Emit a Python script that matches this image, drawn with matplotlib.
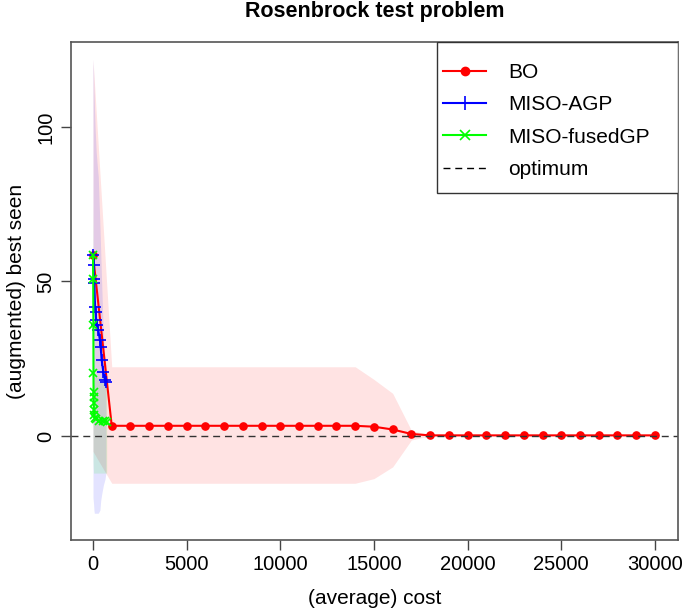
import matplotlib
matplotlib.use("Agg")
import matplotlib.pyplot as plt
from matplotlib.lines import Line2D
from matplotlib.patches import Rectangle

plt.rcParams['font.family'] = ['Liberation Sans', 'DejaVu Sans']

# ---------------- data ----------------
bo_cost = [0, 1000, 2000, 3000, 4000, 5000, 6000, 7000, 8000, 9000, 10000,
           11000, 12000, 13000, 14000, 15000, 16000, 17000, 18000, 19000, 20000,
           21000, 22000, 23000, 24000, 25000, 26000, 27000, 28000, 29000, 30000]
bo_mean = [58.5, 3.3, 3.3, 3.3, 3.3, 3.3, 3.3, 3.3, 3.3, 3.3, 3.3,
           3.3, 3.3, 3.3, 3.3, 3.0, 2.1, 0.65, 0.2, 0.2, 0.2,
           0.2, 0.2, 0.2, 0.2, 0.2, 0.2, 0.2, 0.2, 0.2, 0.2]
bo_upper = [122, 22.4, 22.4, 22.4, 22.4, 22.4, 22.4, 22.4, 22.4, 22.4, 22.4,
            22.4, 22.4, 22.4, 22.4, 18.3, 13.8, 1.8, 0.35, 0.3, 0.3,
            0.3, 0.3, 0.3, 0.3, 0.3, 0.3, 0.3, 0.3, 0.3, 0.3]
bo_lower = [-5, -15.3, -15.3, -15.3, -15.3, -15.3, -15.3, -15.3, -15.3, -15.3, -15.3,
            -15.3, -15.3, -15.3, -15.3, -13.8, -10.0, -1.3, 0.05, 0.1, 0.1,
            0.1, 0.1, 0.1, 0.1, 0.1, 0.1, 0.1, 0.1, 0.1, 0.1]

agp_cost = [0, 30, 50, 70, 110, 140, 170, 220, 280, 370, 410, 460, 550, 640, 690]
agp_mean = [58.5, 55.3, 50.8, 49.5, 41.8, 40.2, 37.5, 35.9, 34.3, 31.0, 28.9, 24.6, 20.8, 18.1, 17.6]
agp_upper = [122, 118, 112, 108, 100, 96, 92, 88, 84, 68, 60, 50, 33, 25, 23]
agp_lower = [-20, -22, -24, -25, -25, -25, -25, -25, -25, -24, -21, -19, -16, -14, -12]

fgp_cost = [0, 10, 20, 25, 30, 35, 40, 50, 60, 80, 150, 330, 520, 640, 730]
fgp_mean = [58.5, 50.8, 36.0, 20.3, 14.3, 12.5, 10.6, 8.4, 6.8, 5.7, 5.4, 5.0, 4.8, 4.7, 4.6]
fgp_upper = [75, 65, 50, 30, 24, 22, 20, 20, 19, 19, 19, 19, 19, 19, 19]
fgp_lower = [-8, -10, -11, -12, -12, -12, -12, -12, -12, -12, -12, -12, -12, -12, -12]

optimum = 0.0

x_ticks = [0, 5000, 10000, 15000, 20000, 25000, 30000]
y_ticks = [0, 50, 100]
labels = ["BO", "MISO-AGP", "MISO-fusedGP", "optimum"]

# ---------------- figure ----------------
W, H = 685, 612
fig = plt.figure(figsize=(W / 100, H / 100), dpi=100)
L, R, T, B = 71, 678, 42, 540
ax = fig.add_axes([L / W, 1 - B / H, (R - L) / W, (B - T) / H])

ax.fill_between(bo_cost, bo_lower, bo_upper, color='#FF0000', alpha=0.11, lw=0)
ax.fill_between(agp_cost, agp_lower, agp_upper, color='#0000FF', alpha=0.11, lw=0)
ax.fill_between(fgp_cost, fgp_lower, fgp_upper, color='#00FF00', alpha=0.11, lw=0)

ax.plot(bo_cost, bo_mean, color='#FF0000', lw=1.5, marker='o', ms=5.2)
ax.plot(agp_cost, agp_mean, color='#0000FF', lw=1.5, marker='+', ms=8, mew=1.2)
ax.plot(fgp_cost, fgp_mean, color='#00FF00', lw=1.5, marker='x', ms=5.5, mew=1.2)
ax.axhline(optimum, color='#333333', lw=1.0, dashes=(5, 3.5))

ax.set_xlim(-1175, 31233)
ax.set_ylim(-33.66, 127.5)

ax.set_xticks(x_ticks)
ax.set_xticklabels([str(t) for t in x_ticks], fontsize=14.5)
ax.set_yticks(y_ticks)
ax.set_yticklabels([str(t) for t in y_ticks], fontsize=14.5, rotation=90, va='center')
ax.tick_params(axis='both', direction='out', length=7, width=1, color='#444444')
ax.tick_params(axis='x', pad=4)
ax.tick_params(axis='y', pad=4)
for s in ax.spines.values():
    s.set_color('#555555')
    s.set_linewidth(1.2)

ax.set_xlabel("(average) cost", fontsize=15)
ax.xaxis.set_label_coords(0.5, (B - 598) / (B - T))
ax.xaxis.label.set_va('center')
ax.set_ylabel("(augmented) best seen", fontsize=15)
ax.yaxis.set_label_coords((17 - L) / (R - L), 0.5)
ax.yaxis.label.set_va('center')

fig.text((L + R) / 2 / W, 1 - 12 / H, "Rosenbrock test problem", ha='center', va='center',
         fontsize=15.5, fontweight='bold')

# legend frame
lx0 = (437 - L) / (R - L)
ly0 = (B - 193) / (B - T)
ax.add_patch(Rectangle((lx0, ly0), 1 - lx0, 1 - ly0, transform=ax.transAxes,
                       facecolor='white', edgecolor='#333333', lw=1.0, zorder=5))
handles = [
    Line2D([], [], color='#FF0000', lw=1.5, marker='o', ms=6),
    Line2D([], [], color='#0000FF', lw=1.5, marker='+', ms=10, mew=1.2),
    Line2D([], [], color='#00FF00', lw=1.5, marker='x', ms=7, mew=1.2),
    Line2D([], [], color='black', lw=1.0, dashes=(5, 3.5)),
]
leg = ax.legend(handles, labels, loc='upper left', frameon=False, fontsize=15,
                bbox_to_anchor=((443 - L) / (R - L), (B - 63) / (B - T)),
                borderpad=0, borderaxespad=0, handlelength=2.07, handletextpad=1.06,
                labelspacing=0.64, numpoints=1)
leg.set_zorder(6)

fig.savefig("out.png", dpi=100)
